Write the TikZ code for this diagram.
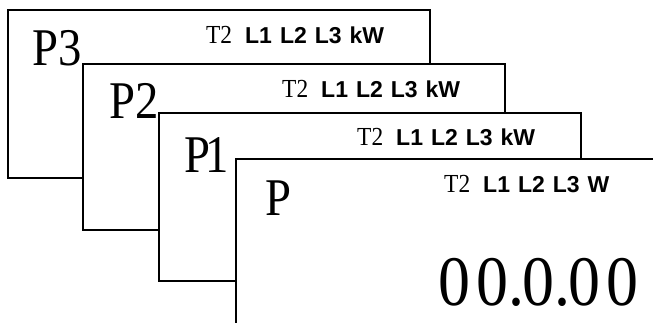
\documentclass[tikz,border=0pt]{standalone}
\usepackage{fontspec}
\setmainfont{Liberation Serif}
\setsansfont{Liberation Sans}
\newcommand\hdrtext[1]{\scalebox{0.9}[1]{\fontsize{26}{26}\selectfont T2}\hspace{13pt}{\sffamily\bfseries\fontsize{23}{23}\selectfont L1\hspace{8pt}L2\hspace{8pt}L3\hspace{8pt}#1}}
\newcommand\biglab[1]{\scalebox{0.88}[1]{#1}}
\begin{document}
\begin{tikzpicture}[x=1pt,y=-1pt,
  card/.style={draw=black,line width=1.3pt,fill=white},
  big/.style={anchor=base west,inner sep=0pt,font=\fontsize{53}{53}\selectfont},
  hdr/.style={anchor=base west,inner sep=0pt},
  num/.style={anchor=base west,inner sep=0pt}]
\clip (0,0) rectangle (653,322);
\fill[white] (0,0) rectangle (653,322);
% card P3
\draw[card] (8,10) rectangle (430,178);
\node[big] (p3) at (32,65) {\biglab{P3}};
\node[hdr] (h3) at (206,43) {\hdrtext{kW}};
% card P2
\draw[card] (83,64) rectangle (505,230);
\node[big] (p2) at (109,118) {\biglab{P2}};
\node[hdr] (h2) at (282,97) {\hdrtext{kW}};
% card P1
\draw[card] (159,113) rectangle (581,281);
\node[big] (p1) at (184,172) {\biglab{P\kern-5pt1}};
\node[hdr] (h1) at (357,145) {\hdrtext{kW}};
% card P
\draw[card] (236,159) rectangle (660,340);
\node[big] (p0) at (265,215) {\biglab{P}};
\node[hdr] (h0) at (444,192) {\hdrtext{W}};
\node[num] (val) at (438,305) {\scalebox{0.9}[1]{\fontsize{71}{71}\selectfont 0\kern7.2pt0.\kern-2.2pt0.\kern-2.2pt0\kern7.2pt0}};
\end{tikzpicture}
\end{document}
